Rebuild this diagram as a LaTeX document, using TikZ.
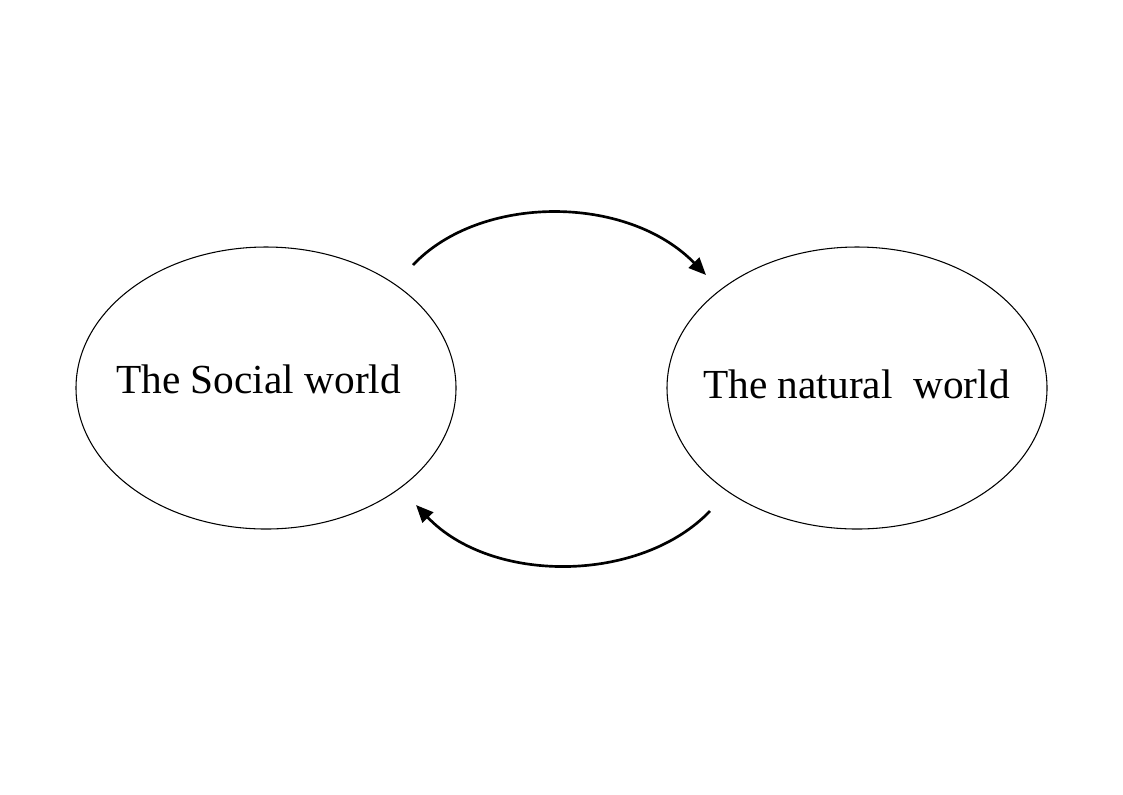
\documentclass[tikz,border=0pt]{standalone}
\usepackage{fontspec}
\setmainfont{Liberation Serif}
\usetikzlibrary{shapes.geometric,arrows.meta}
\begin{document}
\begin{tikzpicture}[x=0.75pt,y=-0.75pt,
  world/.style={draw=black,line width=0.8pt,ellipse,minimum width=285pt,minimum height=211.5pt,inner sep=0pt},
  label/.style={font=\fontsize{31}{36}\selectfont,inner sep=0pt},
  flow/.style={line width=2pt,-{Triangle[length=13pt,width=11pt]}}]
\useasboundingbox (0,0) rectangle (1123,794);
\node[world] (soc) at (266,388) {};
\node[world] (nat) at (857,388) {};
\node[label,anchor=base west] (soct) at (116,393) {The Social world};
\node[label,anchor=base west] (natt) at (703,398) {The natural\ \ world};
\coordinate (a1) at (413,265);
\coordinate (a2) at (706,275);
\coordinate (b1) at (710,511);
\coordinate (b2) at (416,505);
\draw[flow] (a1) .. controls (480,194) and (627,194) .. (a2);
\draw[flow] (b1) .. controls (640,584) and (491,584) .. (b2);
\end{tikzpicture}
\end{document}
